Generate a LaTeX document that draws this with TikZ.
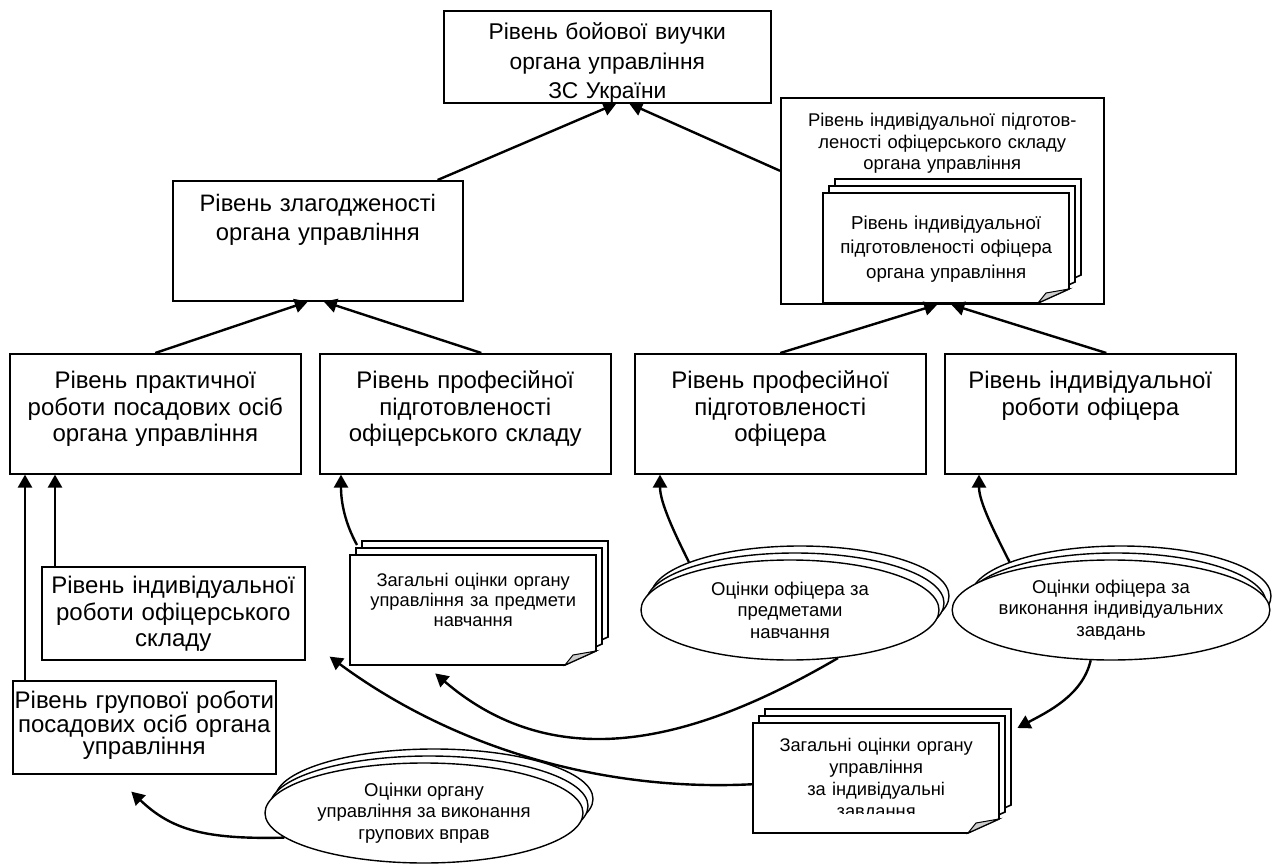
\documentclass[tikz,border=0pt]{standalone}
\usepackage{fontspec}
\setmainfont{Liberation Sans}
\usetikzlibrary{calc}
\usetikzlibrary{shapes}
\usetikzlibrary{arrows.meta}
\definecolor[named]{FoldGray}{gray}{0.8}
\newcommand{\bigtext}{\fontsize{24}{26.5}\selectfont}
\newcommand{\smalltext}{\fontsize{18.5}{21.5}\selectfont}
\tikzset{docstack/.pic={ %{{{
  \foreach \dx/\dy in {12/14,6/7,0/0}
    \draw[fill=white,line width=1.6pt] (\dx,-\dy) -- ++(246,0) -- ++(0,96) -- ++(-31,14) -- ++(-215,0) -- cycle;
  \draw[fill=FoldGray,line width=1pt] (215,110) -- (246,96) -- (223,100) -- cycle;
}}
%}}}

\begin{document}
\begin{tikzpicture}[x=1pt,y=-1pt,
    lvl/.style={draw,fill=white,line width=1.6pt,inner sep=0pt,align=center,anchor=north west},
    oval/.style={draw,fill=white,ellipse,line width=1.4pt,inner sep=0pt,minimum height=100pt,align=center,font=\smalltext},
    doctext/.style={inner sep=0pt,minimum width=246pt,align=center,text width=240pt,anchor=north west},
    arr/.style={line width=2.4pt,-{Triangle[length=13pt,width=14pt]}}]
  \useasboundingbox (0,0) rectangle (1277,866);

  % Top of the hierarchy
  \node[lvl,minimum width=327pt,text width=320pt,text height=29pt,text depth=63pt,font=\fontsize{22.8}{29.5}\selectfont] (T) at (443,10)
    {Рівень бойової виучки\\органа управління\\ЗС України};
  \node[lvl,minimum width=290pt,text width=280pt,text height=31pt,text depth=89pt,font=\fontsize{23.8}{29}\selectfont] (Z) at (172,180)
    {Рівень злагодженості\\органа управління};
  \node[lvl,minimum width=323pt,text width=310pt,text height=29pt,text depth=177pt,font=\fontsize{18.4}{21.5}\selectfont] (R) at (780,97)
    {Рівень індивідуальної підготов-\\леності офіцерського складу\\органа управління};

  % Second row of levels
  \begin{scope}[every node/.style={lvl,minimum width=291pt,text width=280pt,text height=35pt,text depth=85pt,font=\bigtext}]
    \node (P1) at (9,353) {Рівень практичної\\роботи посадових осіб\\органа управління};
    \node (P2) at (319,353) {Рівень професійної\\підготовленості\\офіцерського складу};
    \node (P3) at (634,353) {Рівень професійної\\підготовленості\\офіцера};
    \node (P4) at (944,353) {Рівень індивідуальної\\роботи офіцера};
  \end{scope}

  % Side levels
  \node[lvl,minimum width=263pt,text width=258pt,text height=27pt,text depth=66pt,font=\bigtext] (I1) at (41,566)
    {Рівень індивідуальної\\роботи офіцерського\\складу};
  \node[lvl,minimum width=263pt,text width=263pt,text height=28pt,text depth=65pt,font=\fontsize{24}{22.5}\selectfont] (G) at (12,680)
    {Рівень групової роботи\\посадових осіб органа\\управління};

  % Document stacks
  \pic at (823,193) {docstack};
  \node[doctext,text height=36pt,text depth=74pt,font=\fontsize{18.7}{24.5}\selectfont] (D0) at (823,193)
    {Рівень індивідуальної\\підготовленості офіцера\\органа управління};
  \pic at (350,555) {docstack};
  \node[doctext,text height=31pt,text depth=79pt,font=\fontsize{18.3}{20}\selectfont] (D1) at (350,555)
    {Загальні оцінки органу\\управління за предмети\\навчання};
  \pic at (753,723) {docstack};
  \begin{scope}
    \clip (753,723) rectangle (1000,813);
    \node[doctext,text height=28pt,text depth=82pt,font=\fontsize{18.3}{22}\selectfont] (D2) at (753,723)
      {Загальні оцінки органу\\управління\\за індивідуальні\\завдання};
  \end{scope}

  % This one runs behind the group oval
  \draw[arr] ([yshift=-6pt]D2.west) .. controls +(-153,8) and +(122,90) .. ([xshift=24pt,yshift=4pt]I1.south east);

  % Assessment ovals
  \node[oval,minimum width=298pt] (E1c) at (800,596) {};
  \node[oval,minimum width=298pt] (E1b) at (795,603) {};
  \node[oval,minimum width=298pt] (E1) at (790,610) {Оцінки офіцера за\\предметами\\навчання};
  \node[oval,minimum width=300pt] (E2c) at (1121,596) {};
  \node[oval,minimum width=300pt] (E2b) at (1116,603) {};
  \node[oval,minimum width=300pt] (E2) at (1111,610) {Оцінки офіцера за\\виконання індивідуальних\\завдань};
  \node[oval,minimum width=318pt] (E3c) at (434,799) {};
  \node[oval,minimum width=318pt] (E3b) at (429,806) {};
  \node[oval,minimum width=318pt] (E3) at (424,813) {Оцінки органу\\управління за виконання\\групових вправ};

  % Upward links
  \draw[arr] ([xshift=-26pt]Z.north east) -- ([xshift=9pt]T.south);
  \draw[arr] ([yshift=30pt]R.west) -- ([xshift=22pt]T.south);
  \draw[arr] (P1.north) -- ([xshift=-10pt]Z.south);
  \draw[arr] ([xshift=16pt]P2.north) -- ([xshift=6pt]Z.south);
  \draw[arr] (P3.north) -- ([xshift=-5pt]R.south);
  \draw[arr] ([xshift=16pt]P4.north) -- ([xshift=9pt]R.south);
  \coordinate (g) at ([xshift=13pt]G.north west);
  \coordinate (i) at ([xshift=14pt]I1.north west);
  \draw[arr] (g) -- (g |- P1.south);
  \draw[arr] (i) -- (i |- P1.south);

  % Assessment links
  \draw[arr] ([xshift=7pt,yshift=10pt]D1.north west) .. controls +(-12,-22) and +(0,28) .. ([xshift=22pt]P2.south west);
  \draw[arr] (E1c.163) .. controls +(-14,-28) and +(0,28) .. ([xshift=26pt]P3.south west);
  \draw[arr] (E2c.163) .. controls +(-14,-28) and +(0,28) .. ([xshift=35pt]P4.south west);
  \draw[arr] (E1.-45) .. controls +(-137,80) and +(125,107) .. ([xshift=-38pt,yshift=-8pt]D1.south);
  \draw[arr] (E2.-112) .. controls +(-8,35) and +(30,-16) .. ([xshift=18pt,yshift=-5pt]D2.north east);
  \draw[arr] (E3.190) .. controls +(-80,2) and +(40,38) .. ([xshift=-13pt,yshift=-17pt]G.south);
\end{tikzpicture}
\end{document}
